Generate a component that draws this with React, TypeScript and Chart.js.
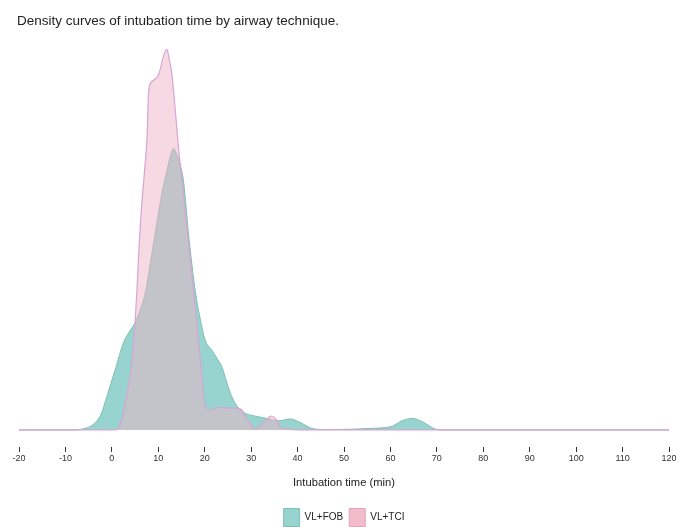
import React, { useEffect, useRef } from "react";
import { Chart, registerables } from "chart.js";

Chart.register(...registerables);

const titleText = "Density curves of intubation time by airway technique.";
const xAxisTitle = "Intubation time (min)";
const seriesNames = ["VL+FOB", "VL+TCI"];

const fobTime = [
  -20, -8, -6.5, -5, -3.6, -2.3, -1.1, 0.7, 2.5, 4, 5, 6.1, 7.2, 9, 10.8, 11.9, 12.6, 13.3, 14, 14.8,
  15.4, 16.6, 18, 19, 20.1, 21.5, 22.6, 23.7, 24.6, 25.5, 26.5, 27.3, 28.7, 31.6, 34, 35.9, 38.4, 40.2,
  42.4, 43.8, 46, 52, 56, 59, 60.5, 62.5, 64.7, 66.8, 69.7, 71, 120,
];
const fobDensity = [
  0, 0, 0.0002, 0.0007, 0.0018, 0.004, 0.0083, 0.015, 0.0218, 0.025, 0.0268, 0.03, 0.0343, 0.0468,
  0.0593, 0.065, 0.0685, 0.0704, 0.0688, 0.066, 0.0625, 0.048, 0.0345, 0.028, 0.0225, 0.02, 0.018,
  0.0158, 0.0125, 0.0093, 0.0068, 0.0055, 0.0042, 0.0033, 0.0027, 0.0023, 0.00275, 0.0021, 0.0007,
  0.0002, 0.0001, 0.0002, 0.0004, 0.0006, 0.001, 0.0023, 0.0029, 0.0021, 0.0002, 0, 0,
];

const tciTime = [
  -20, 0.5, 1.1, 2, 2.9, 4.3, 5, 5.4, 6.1, 7.05, 7.55, 7.9, 8.5, 9.3, 9.9, 10.5, 11, 11.85, 12.4, 12.9,
  13.6, 14.4, 15.1, 16.5, 17.8, 19, 20.1, 21.2, 23, 26.9, 28, 28.7, 29.5, 30.5, 31.6, 33.4, 34.3, 35.2,
  36.3, 38.1, 40, 120,
];
const tciDensity = [
  0, 0, 0.0002, 0.002, 0.0068, 0.0168, 0.0268, 0.035, 0.0508, 0.065, 0.0725, 0.0843, 0.087, 0.0878,
  0.0885, 0.0905, 0.093, 0.0952, 0.0925, 0.0893, 0.0808, 0.07, 0.0625, 0.047, 0.0325, 0.0183, 0.0058,
  0.005, 0.0056, 0.0054, 0.005, 0.0033, 0.0021, 0.0004, 0.0008, 0.0027, 0.0035, 0.0029, 0.0008, 0.0002,
  0, 0,
];

const FONT = "'Liberation Sans', Arial, Helvetica, sans-serif";

const nudgePlugin = {
  id: "nudge",
  afterLayout(chart: any) {
    const lg = chart.legend;
    if (lg) {
      lg.top += 9.5;
      lg.bottom += 9.5;
    }
    const tb = chart.titleBlock;
    if (tb) {
      tb.left -= 2;
      tb.right -= 2;
    }
  },
};

export default function App() {
  const ref = useRef<HTMLCanvasElement | null>(null);

  useEffect(() => {
    if (!ref.current) return;
    const fobPts = fobTime.map((x, i) => ({ x, y: fobDensity[i] }));
    const tciPts = tciTime.map((x, i) => ({ x, y: tciDensity[i] }));

    const legendItems = [
      { text: seriesNames[0], fillStyle: "#98d4cf", strokeStyle: "#7fbfb0", lineWidth: 1, hidden: false, datasetIndex: 0, fontColor: "#222" },
      { text: seriesNames[1], fillStyle: "#f2bccb", strokeStyle: "#e3a3ba", lineWidth: 1, hidden: false, datasetIndex: 1, fontColor: "#222" },
    ];

    const chart = new Chart(ref.current, {
      type: "line",
      data: {
        datasets: [
          {
            label: seriesNames[0],
            data: fobPts,
            backgroundColor: "#98d4cf",
            borderColor: "#7fbfb0",
            borderWidth: 1,
            fill: "origin",
            pointRadius: 0,
            cubicInterpolationMode: "monotone",
            order: 2,
          },
          {
            label: seriesNames[1],
            data: tciPts,
            backgroundColor: "rgba(237,179,197,0.5)",
            borderColor: "#d8a4d6",
            borderWidth: 1.2,
            fill: "origin",
            pointRadius: 0,
            cubicInterpolationMode: "monotone",
            order: 1,
          },
        ],
      },
      options: {
        responsive: false,
        animation: false,
        parsing: false,
        normalized: true,
        layout: { padding: { left: 19, right: 9, top: 0, bottom: 0 } },
        plugins: {
          tooltip: { enabled: false },
          title: {
            display: true,
            text: titleText,
            align: "start",
            color: "#222",
            font: { family: FONT, size: 13.5, weight: "normal" },
            padding: { top: 13, bottom: 1 },
          },
          legend: {
            display: true,
            position: "bottom",
            labels: {
              boxWidth: 16,
              boxHeight: 18,
              padding: 6,
              color: "#222",
              font: { family: FONT, size: 10 },
              generateLabels: () => legendItems as any,
            },
          },
        },
        scales: {
          x: {
            type: "linear",
            min: -20,
            max: 120,
            border: { display: false },
            grid: {
              display: true,
              drawOnChartArea: false,
              drawTicks: true,
              tickLength: 5,
              color: "#333",
              lineWidth: 1,
            },
            ticks: {
              stepSize: 10,
              padding: 1,
              maxRotation: 0,
              autoSkip: false,
              color: "#333",
              font: { family: FONT, size: 9 },
            },
            title: {
              display: true,
              text: xAxisTitle,
              color: "#222",
              font: { family: FONT, size: 11.2 },
              padding: { top: 11, bottom: 3.8 },
            },
          },
          y: {
            display: false,
            min: -0.00425,
            max: 0.1,
          },
        },
      },
      plugins: [nudgePlugin],
    });
    return () => chart.destroy();
  }, []);

  return (
    <div style={{ position: "absolute", left: 0, top: 0, width: 678, height: 527, background: "#fff" }}>
      <canvas ref={ref} width={678} height={527} style={{ display: "block" }} />
    </div>
  );
}
